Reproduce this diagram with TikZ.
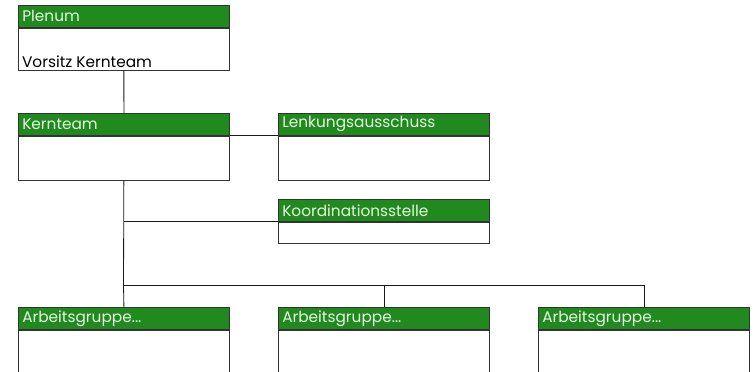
\documentclass[tikz,border=0pt]{standalone}
\usepackage{fontspec}
\setmainfont{Poppins}
\usetikzlibrary{positioning}
\definecolor{kopfgruen}{RGB}{32,138,30}
\definecolor{kopftext}{RGB}{232,246,226}
\tikzset{
    kopf/.style={draw=black!80, line width=0.6pt, fill=kopfgruen, text=kopftext, anchor=north west,
        minimum width=6.33cm, minimum height=0.66cm, text width=6.1cm, align=left,
        inner ysep=0pt, font=\fontsize{13.1}{15}\selectfont},
    koerper/.style={draw=black!80, line width=0.6pt, fill=white, anchor=north west,
        minimum width=6.33cm, inner sep=0pt},
    linie/.style={line width=0.7pt, black!90}
}
\begin{document}
\begin{tikzpicture}[x=0.03cm, y=-0.03cm]
    \useasboundingbox (0,0) rectangle (754,372);

    % Plenum
    \node[kopf] (plenum) at (18,5) {Plenum};
    \node[koerper, minimum height=1.26cm] (plenumK) at (plenum.south west) {};
    \node[anchor=south west, inner xsep=3.3pt, inner ysep=2.5pt, font=\fontsize{13.1}{15}\selectfont] (vorsitz) at (plenumK.south west) {Vorsitz Kernteam};

    % Kernteam und Lenkungsausschuss
    \node[kopf] (kern) at (18,113) {Kernteam};
    \node[koerper, minimum height=1.32cm] (kernK) at (kern.south west) {};
    \node[kopf] (lenk) at (278,113) {Lenkungsausschuss};
    \node[koerper, minimum height=1.32cm] (lenkK) at (lenk.south west) {};

    % Koordinationsstelle
    \node[kopf] (koord) at (278,199) {Koordinationsstelle};
    \node[koerper, minimum height=0.63cm] (koordK) at (koord.south west) {};

    % Arbeitsgruppen
    \node[kopf] (ag1) at (18,307) {Arbeitsgruppe...};
    \node[koerper, minimum height=1.4cm] (ag1K) at (ag1.south west) {};
    \node[kopf] (ag2) at (278,307) {Arbeitsgruppe...};
    \node[koerper, minimum height=1.4cm] (ag2K) at (ag2.south west) {};
    \node[kopf] (ag3) at (538,307) {Arbeitsgruppe...};
    \node[koerper, minimum height=1.4cm] (ag3K) at (ag3.south west) {};

    % Verbindungen
    \coordinate (bus) at (123.5,285);
    \draw[linie] (plenumK.south) -- (kern.north);
    \draw[linie] (kern.south east) -- (lenk.south west);
    \draw[linie] (kernK.south) -- (bus);
    \draw[linie] (koord.south west) -- (koord.south west -| kernK.south);
    \draw[linie] (bus) -- (ag1.north);
    \draw[linie] (bus) -- (bus -| ag3.north) -- (ag3.north);
    \draw[linie] (bus -| ag2.north) -- (ag2.north);
\end{tikzpicture}
\end{document}
